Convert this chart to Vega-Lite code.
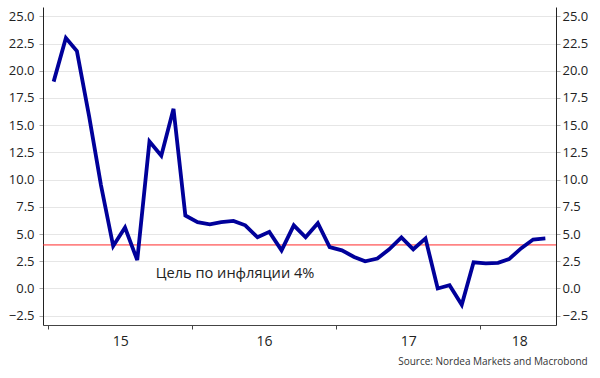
{
  "$schema": "https://vega.github.io/schema/vega-lite/v6.json",
  "width": 513,
  "height": 318,
  "autosize": {"type": "none"},
  "padding": {"left": 43, "top": 7, "right": 44, "bottom": 53},
  "config": {
    "view": {"stroke": null},
    "font": "Open Sans",
    "axis": {"labelFont": "Open Sans", "labelColor": "#222", "title": null}
  },
  "title": {
    "text": "Source: Nordea Markets and Macrobond",
    "orient": "bottom",
    "anchor": "end",
    "frame": "bounds",
    "fontSize": 10,
    "fontWeight": "normal",
    "color": "#333",
    "font": "Open Sans",
    "offset": 9
  },
  "datasets": {
    "cpi": [
      {"date": "2015-01-15", "value": 19.0},
      {"date": "2015-02-15", "value": 23.0},
      {"date": "2015-03-15", "value": 21.8},
      {"date": "2015-04-15", "value": 15.8},
      {"date": "2015-05-15", "value": 9.5},
      {"date": "2015-06-15", "value": 3.9},
      {"date": "2015-07-15", "value": 5.6},
      {"date": "2015-08-15", "value": 2.6},
      {"date": "2015-09-15", "value": 13.5},
      {"date": "2015-10-15", "value": 12.2},
      {"date": "2015-11-15", "value": 16.5},
      {"date": "2015-12-15", "value": 6.7},
      {"date": "2016-01-15", "value": 6.1},
      {"date": "2016-02-15", "value": 5.9},
      {"date": "2016-03-15", "value": 6.1},
      {"date": "2016-04-15", "value": 6.2},
      {"date": "2016-05-15", "value": 5.8},
      {"date": "2016-06-15", "value": 4.7},
      {"date": "2016-07-15", "value": 5.2},
      {"date": "2016-08-15", "value": 3.5},
      {"date": "2016-09-15", "value": 5.8},
      {"date": "2016-10-15", "value": 4.7},
      {"date": "2016-11-15", "value": 6.0},
      {"date": "2016-12-15", "value": 3.8},
      {"date": "2017-01-15", "value": 3.5},
      {"date": "2017-02-15", "value": 2.9},
      {"date": "2017-03-15", "value": 2.5},
      {"date": "2017-04-15", "value": 2.75},
      {"date": "2017-05-15", "value": 3.6},
      {"date": "2017-06-15", "value": 4.7},
      {"date": "2017-07-15", "value": 3.6},
      {"date": "2017-08-15", "value": 4.6},
      {"date": "2017-09-15", "value": 0.0},
      {"date": "2017-10-15", "value": 0.3},
      {"date": "2017-11-15", "value": -1.5},
      {"date": "2017-12-15", "value": 2.4},
      {"date": "2018-01-15", "value": 2.3},
      {"date": "2018-02-15", "value": 2.35},
      {"date": "2018-03-15", "value": 2.7},
      {"date": "2018-04-15", "value": 3.7},
      {"date": "2018-05-15", "value": 4.5},
      {"date": "2018-06-15", "value": 4.6}
    ],
    "target": [{"value": 4}],
    "note": [{"date": "2015-10-01", "value": 1.0, "label": "Цель по инфляции 4%"}]
  },
  "resolve": {"axis": {"y": "independent"}},
  "layer": [
    {
      "data": {"name": "target"},
      "mark": {"type": "rule", "color": "#ff2a2a", "strokeWidth": 1},
      "encoding": {
        "y": {
          "field": "value",
          "type": "quantitative",
          "scale": {"domain": [-3.354, 25.854], "nice": false, "zero": false},
          "axis": {
            "orient": "right",
            "values": [-2.5, 0, 2.5, 5, 7.5, 10, 12.5, 15, 17.5, 20, 22.5, 25],
            "format": ".1f",
            "grid": false,
            "tickSize": 4,
            "tickColor": "#aaa",
            "domainColor": "#222",
            "labelPadding": 2,
            "labelFontSize": 13,
            "title": null
          }
        }
      }
    },
    {
      "data": {"name": "note"},
      "mark": {"type": "text", "align": "left", "baseline": "alphabetic", "fontSize": 14.6, "font": "Open Sans", "color": "#222"},
      "encoding": {
        "x": {"field": "date", "type": "temporal", "scale": {"type": "utc", "domain": [{"year": 2014, "month": 12, "date": 19, "utc": true}, {"year": 2018, "month": 7, "date": 12, "utc": true}]}},
        "y": {"field": "value", "type": "quantitative", "axis": null},
        "text": {"field": "label"}
      }
    },
    {
      "data": {"name": "cpi"},
      "mark": {"type": "line", "color": "#00009a", "strokeWidth": 3.8, "strokeJoin": "miter"},
      "encoding": {
        "x": {
          "field": "date",
          "type": "temporal",
          "scale": {"type": "utc", "domain": [{"year": 2014, "month": 12, "date": 19, "utc": true}, {"year": 2018, "month": 7, "date": 12, "utc": true}]},
          "axis": {
            "values": [
              {"year": 2015, "month": 1, "date": 1, "utc": true},
              {"year": 2016, "month": 1, "date": 1, "utc": true},
              {"year": 2017, "month": 1, "date": 1, "utc": true},
              {"year": 2018, "month": 1, "date": 1, "utc": true}
            ],
            "labelExpr": "utcFormat(datum.value, '%y')",
            "labelOffset": {"condition": {"test": "utcyear(datum.value) == 2018", "value": 39}, "value": 72},
            "labelAlign": "center",
            "grid": false,
            "tickSize": 4,
            "tickColor": "#444",
            "domainColor": "#444",
            "labelPadding": 5,
            "labelFontSize": 14,
            "title": null
          }
        },
        "y": {
          "field": "value",
          "type": "quantitative",
          "axis": {
            "orient": "left",
            "values": [-2.5, 0, 2.5, 5, 7.5, 10, 12.5, 15, 17.5, 20, 22.5, 25],
            "format": ".1f",
            "grid": true,
            "gridColor": "#e6e6e6",
            "gridWidth": 1,
            "tickSize": 4,
            "tickColor": "#aaa",
            "domainColor": "#222",
            "labelPadding": 5,
            "labelFontSize": 13,
            "title": null
          }
        }
      }
    }
  ]
}
